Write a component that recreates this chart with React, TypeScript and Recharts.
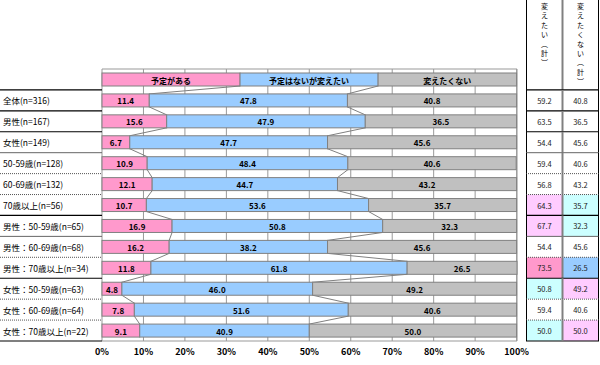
import React from "react";
import { BarChart, Bar, XAxis, YAxis, CartesianGrid } from "recharts";

// series + header row labels
const SERIES_NAMES = ["予定がある", "予定はないが変えたい", "変えたくない"];
const HEADER_SHARES = [33.3, 33.3, 33.4];

const GROUPS = [
  "全体(n=316)",
  "男性(n=167)",
  "女性(n=149)",
  "50-59歳(n=128)",
  "60-69歳(n=132)",
  "70歳以上(n=56)",
  "男性：50-59歳(n=65)",
  "男性：60-69歳(n=68)",
  "男性：70歳以上(n=34)",
  "女性：50-59歳(n=63)",
  "女性：60-69歳(n=64)",
  "女性：70歳以上(n=22)",
];
const PLAN = [11.4, 15.6, 6.7, 10.9, 12.1, 10.7, 16.9, 16.2, 11.8, 4.8, 7.8, 9.1];
const WANT = [47.8, 47.9, 47.7, 48.4, 44.7, 53.6, 50.8, 38.2, 61.8, 46.0, 51.6, 40.9];
const NOT_WANT = [40.8, 36.5, 45.6, 40.6, 43.2, 35.7, 32.3, 45.6, 26.5, 49.2, 40.6, 50.0];

// right-hand summary table (headers are written top to bottom)
const TABLE_HEADERS = ["変えたい︵計︶", "変えたくない︵計︶"];
const TOTAL_WANT = [59.2, 63.5, 54.4, 59.4, 56.8, 64.3, 67.7, 54.4, 73.5, 50.8, 59.4, 50.0];
const TOTAL_NOT = [40.8, 36.5, 45.6, 40.6, 43.2, 35.7, 32.3, 45.6, 26.5, 49.2, 40.6, 50.0];

const X_TICKS = [0, 10, 20, 30, 40, 50, 60, 70, 80, 90, 100];

const KEYS = ["plan", "want", "notWant"];
const COLORS = ["#FF99CC", "#99CCFF", "#C0C0C0"];
const FONT = "'Noto Sans CJK JP', sans-serif";

const TOP = 69;
const BOTTOM = 341;
const STEP = (BOTTOM - TOP) / (GROUPS.length + 1);

// cell fills per table row (want, not)
const P = "#FFCCFF";
const C = "#CCFFFF";
const CELL_FILLS: [string, string][] = [
  ["#fff", "#fff"],
  ["#fff", "#fff"],
  ["#fff", "#fff"],
  ["#fff", "#fff"],
  ["#fff", "#fff"],
  [P, C],
  [P, C],
  ["#fff", "#fff"],
  ["#FF99CC", "#99CCFF"],
  [C, P],
  ["#fff", "#fff"],
  [C, P],
];

// separator style on top of each group row, then the bottom edge
const SEP = ["dark", "dark", "dark", "grey", "dot", "dot", "dark", "grey", "dot", "dark", "dot", "dot", "dark"];

const rows = [
  { name: "header", plan: HEADER_SHARES[0], want: HEADER_SHARES[1], notWant: HEADER_SHARES[2] },
  ...GROUPS.map((g, i) => ({ name: g, plan: PLAN[i], want: WANT[i], notWant: NOT_WANT[i] })),
];

function sepProps(kind: string) {
  if (kind === "dark") return { stroke: "#000", strokeWidth: 1.2 };
  if (kind === "grey") return { stroke: "#666", strokeWidth: 1 };
  return { stroke: "#555", strokeWidth: 1, strokeDasharray: "1 1" };
}

function makeShape(seg: number) {
  return (props: any) => {
    const { x, y, width, height, index, payload } = props;
    const v = payload[KEYS[seg]];
    const k = v ? width / v : 0;
    let before = 0;
    for (let s = 0; s < seg; s++) before += payload[KEYS[s]];
    const x0 = x - before * k;
    const next = rows[index + 1];
    let lineEl = null;
    // series line to the same boundary on the next row
    if (next && seg < 2) {
      let nextCum = 0;
      for (let s = 0; s <= seg; s++) nextCum += (next as any)[KEYS[s]];
      lineEl = (
        <line
          x1={x + width}
          y1={y + height}
          x2={x0 + nextCum * k}
          y2={y + STEP}
          stroke="#808080"
          strokeWidth={1}
        />
      );
    }
    const label = index === 0 ? SERIES_NAMES[seg] : v.toFixed(1);
    return (
      <g>
        <rect x={x} y={y} width={width} height={height} fill={COLORS[seg]} stroke="#808080" strokeWidth={1} />
        {lineEl}
        <text
          x={x + width / 2}
          y={y + height / 2 + 0.5}
          textAnchor="middle"
          dominantBaseline="central"
          fontSize={8}
          fontWeight={700}
          fontFamily={FONT}
          fill="#000"
        >
          {label}
        </text>
      </g>
    );
  };
}

function RowTick(props: any) {
  const { y, index, payload } = props;
  const top = y - STEP / 2;
  const bottom = y + STEP / 2;
  const cx1 = 544.5;
  const cx2 = 580.5;
  if (index === 0) {
    return (
      <g>
        {TABLE_HEADERS.map((h, j) =>
          Array.from(h).map((ch, n) => (
            <text
              key={`${j}-${n}`}
              x={j === 0 ? cx1 : cx2}
              y={6 + n * 9.4}
              textAnchor="middle"
              dominantBaseline="central"
              fontSize={7}
              fontFamily={FONT}
              fill="#000"
            >
              {ch}
            </text>
          ))
        )}
        <line x1={526.5} y1={0} x2={526.5} y2={bottom} stroke="#000" />
        <line x1={562.5} y1={0} x2={562.5} y2={bottom} stroke="#808080" strokeWidth={2} />
        <line x1={598.5} y1={0} x2={598.5} y2={bottom} stroke="#000" />
      </g>
    );
  }
  const r = index - 1;
  const fills = CELL_FILLS[r];
  const isLast = index === GROUPS.length;
  return (
    <g>
      <rect x={527} y={top} width={35} height={STEP} fill={fills[0]} />
      <rect x={563} y={top} width={35} height={STEP} fill={fills[1]} />
      <line x1={0} y1={top} x2={102} y2={top} {...sepProps(SEP[r])} />
      <line x1={526} y1={top} x2={599} y2={top} {...sepProps(SEP[r])} />
      {isLast && <line x1={0} y1={bottom} x2={102} y2={bottom} {...sepProps(SEP[r + 1])} />}
      {isLast && <line x1={526} y1={bottom} x2={599} y2={bottom} {...sepProps(SEP[r + 1])} />}
      <line x1={526.5} y1={top} x2={526.5} y2={bottom} stroke="#000" />
      <line x1={562.5} y1={top} x2={562.5} y2={bottom} stroke="#808080" strokeWidth={2} />
      <line x1={598.5} y1={top} x2={598.5} y2={bottom} stroke="#000" />
      <text x={3} y={y} dominantBaseline="central" fontSize={8.5} fontFamily={FONT} fill="#000">
        {payload.value}
      </text>
      <text x={cx1} y={y} textAnchor="middle" dominantBaseline="central" fontSize={7.5} fontFamily={FONT} fill="#222">
        {TOTAL_WANT[r].toFixed(1)}
      </text>
      <text x={cx2} y={y} textAnchor="middle" dominantBaseline="central" fontSize={7.5} fontFamily={FONT} fill="#222">
        {TOTAL_NOT[r].toFixed(1)}
      </text>
    </g>
  );
}

export default function App() {
  return (
    <div style={{ position: "absolute", left: 0, top: 0, width: 600, height: 365, background: "#fff" }}>
      <BarChart
        width={600}
        height={365}
        data={rows}
        layout="vertical"
        margin={{ top: TOP, right: 83, bottom: 0, left: 0 }}
        barSize={13}
      >
        <CartesianGrid stroke="#999" horizontalPoints={[TOP, BOTTOM]} />
        <XAxis
          type="number"
          domain={[0, 100]}
          ticks={X_TICKS}
          interval={0}
          tickFormatter={(v) => `${v}%`}
          axisLine={false}
          tickLine={false}
          height={365 - BOTTOM}
          tick={{ fontSize: 9, fontWeight: 700, fill: "#000", fontFamily: FONT }}
        />
        <YAxis
          type="category"
          dataKey="name"
          width={102}
          interval={0}
          axisLine={false}
          tickLine={false}
          tick={<RowTick />}
        />
        {KEYS.map((k, i) => (
          <Bar key={k} dataKey={k} stackId="a" fill={COLORS[i]} shape={makeShape(i)} isAnimationActive={false} />
        ))}
      </BarChart>
    </div>
  );
}
